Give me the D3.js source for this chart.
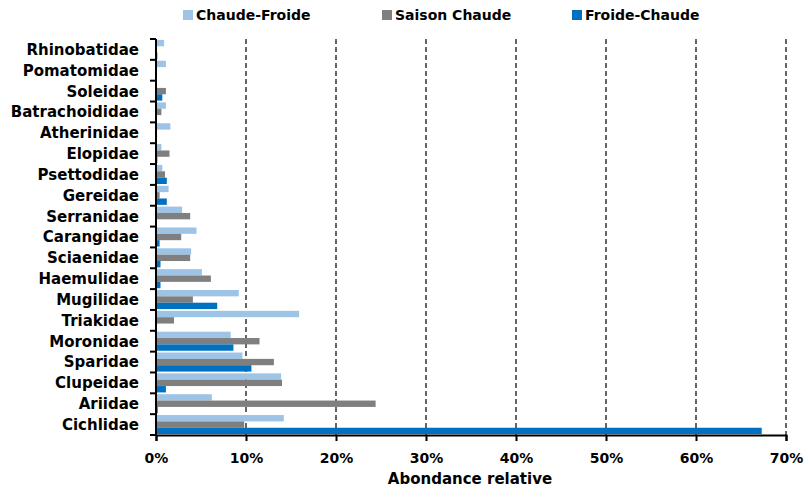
<!DOCTYPE html>
<html>
<head>
<meta charset="utf-8">
<script src="https://cdn.jsdelivr.net/npm/d3@7/dist/d3.min.js"></script>
<style>
  html, body { margin: 0; padding: 0; background: #fff; }
  svg { display: block; }
  text { font-family: "DejaVu Sans", sans-serif; font-weight: bold; fill: #000; }
</style>
</head>
<body>
<script>
// Families, listed top to bottom
const categories = ["Rhinobatidae", "Pomatomidae", "Soleidae", "Batrachoididae", "Atherinidae",
  "Elopidae", "Psettodidae", "Gereidae", "Serranidae", "Carangidae", "Sciaenidae",
  "Haemulidae", "Mugilidae", "Triakidae", "Moronidae", "Sparidae", "Clupeidae", "Ariidae", "Cichlidae"];

// Relative abundance (%) per season transition
const chaudeFroide = [0.9, 1.1, 0, 1.1, 1.6, 0.6, 0.7, 1.4, 2.9, 4.5, 3.9, 5.1, 9.2, 15.9, 8.3, 9.6, 13.9, 6.2, 14.2];
const saisonChaude = [0, 0, 1.1, 0.6, 0, 1.5, 1.0, 0.4, 3.8, 2.8, 3.8, 6.1, 4.1, 2.0, 11.5, 13.1, 14.0, 24.4, 9.8];
const froideChaude = [0.15, 0, 0.7, 0, 0, 0.15, 1.2, 1.2, 0, 0.4, 0.5, 0.5, 6.8, 0, 8.6, 10.6, 1.1, 0.2, 67.3];

const seriesNames = ["Chaude-Froide", "Saison Chaude", "Froide-Chaude"];
const seriesColors = ["#9DC3E6", "#7F7F7F", "#0070C0"];
const xTicks = [0, 10, 20, 30, 40, 50, 60, 70];
const xTitle = "Abondance relative";

const series = [chaudeFroide, saisonChaude, froideChaude];

const W = 809, H = 492;
const margin = { top: 39, right: 23, bottom: 57, left: 156 };
const innerW = W - margin.left - margin.right;
const innerH = H - margin.top - margin.bottom;

const svg = d3.select("body").append("svg").attr("width", W).attr("height", H);
const g = svg.append("g").attr("transform", `translate(${margin.left},${margin.top})`);

const x = d3.scaleLinear().domain([0, 70]).range([0, innerW]);
const y = d3.scaleBand().domain(categories).range([0, innerH]);
const sub = d3.scaleBand().domain(d3.range(series.length)).range([0, y.bandwidth()]).paddingOuter(0.14).paddingInner(0);

// dashed vertical gridlines
g.append("g").selectAll("line").data(xTicks.slice(1)).join("line")
  .attr("x1", d => x(d)).attr("x2", d => x(d))
  .attr("y1", 0).attr("y2", innerH)
  .attr("stroke", "#000").attr("stroke-width", 1.2)
  .attr("stroke-dasharray", "5,3");

// bars
series.forEach((vals, si) => {
  g.append("g").selectAll("rect").data(categories).join("rect")
    .attr("x", x(0))
    .attr("y", (c) => y(c) + sub(si))
    .attr("width", (c, i) => x(vals[i]) - x(0))
    .attr("height", sub.bandwidth())
    .attr("fill", seriesColors[si]);
});

// x axis
const xAxis = g.append("g").attr("transform", `translate(0,${innerH})`)
  .call(d3.axisBottom(x).tickValues(xTicks).tickFormat(d => d + "%").tickSize(6).tickPadding(12));
xAxis.select(".domain").attr("stroke", "#000").attr("stroke-width", 2);
xAxis.selectAll(".tick line").attr("stroke", "#000").attr("stroke-width", 2);
xAxis.selectAll("text").style("font-size", "14px").style("font-family", "DejaVu Sans").style("font-weight", "bold");

// y axis: ticks at band boundaries
g.append("line").attr("x1", 0).attr("x2", 0).attr("y1", 0).attr("y2", innerH)
  .attr("stroke", "#000").attr("stroke-width", 2);
g.append("g").selectAll("line").data(d3.range(categories.length + 1)).join("line")
  .attr("x1", -6).attr("x2", 0)
  .attr("y1", i => i * y.step()).attr("y2", i => i * y.step())
  .attr("stroke", "#000").attr("stroke-width", 2);
g.append("g").selectAll("text").data(categories).join("text")
  .attr("x", -17)
  .attr("y", c => y(c) + y.bandwidth() / 2)
  .attr("dy", "0.36em")
  .attr("text-anchor", "end")
  .style("font-size", "15px")
  .text(c => c);

// axis title
svg.append("text")
  .attr("x", margin.left + innerW / 2 - 1)
  .attr("y", 484)
  .attr("text-anchor", "middle")
  .style("font-size", "15px")
  .text(xTitle);

// legend
const legendX = [183, 382, 572];
const legend = svg.append("g");
seriesNames.forEach((name, i) => {
  legend.append("rect").attr("x", legendX[i]).attr("y", 10).attr("width", 10).attr("height", 10)
    .attr("fill", seriesColors[i]);
  legend.append("text").attr("x", legendX[i] + 13).attr("y", 15).attr("dy", "0.36em")
    .style("font-size", "14px").text(name);
});
</script>
</body>
</html>
